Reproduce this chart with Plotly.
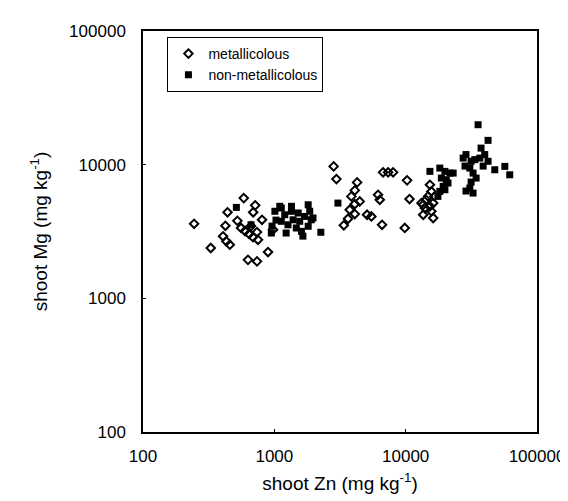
import plotly.graph_objects as go

# metallicolous populations (shoot Zn, shoot Mg; mg/kg)
met_zn = [245, 585, 715, 440, 690, 523, 806, 424, 558, 598, 642, 688, 738, 664,
          407, 431, 458, 328, 751, 895, 630, 738, 977,
          2970, 2830, 4270, 4100, 3860, 4470, 4100, 3750, 4100, 3640, 3380, 5080, 5480,
          6160, 6350, 6610, 6730, 7350, 8020, 10250, 10700, 9840,
          13200, 14000, 13600, 14300, 15300, 15700, 14800, 15300, 16200, 16600, 15700, 16200, 13600]
met_mg = [3610, 5620, 4960, 4400, 4400, 3800, 3870, 3490, 3360, 3190, 3030, 2870, 3130, 3470,
          2910, 2670, 2520, 2380, 2740, 2220, 1940, 1890, 3260,
          7800, 9710, 7370, 6420, 5790, 5310, 5070, 4600, 4270, 3940, 3520, 4220, 4100,
          5950, 5460, 3550, 8760, 8760, 8760, 7630, 5530, 3360,
          5160, 4740, 4220, 5460, 7070, 6310, 5790, 4880, 5160, 5790, 4480, 3990, 5010]

# non-metallicolous populations
non_zn = [514, 949, 1010, 1100, 1130, 1350, 1810, 1200, 1390, 1560, 1700, 1860, 1910,
          1270, 1470, 1610, 1810, 1130, 1350, 1520, 1970, 2260, 960, 1030, 1230, 1650,
          665, 3050,
          35600, 42400, 37500, 40000, 28800, 27400, 31500, 33600, 36700, 42400, 30800,
          32600, 34400, 38900, 47700, 56900, 62000, 30800, 32600, 28800, 31500, 28300,
          15300, 18200, 19900, 21700, 23000, 18700, 20400, 21000, 19300, 18200, 17600, 19900]
non_mg = [4790, 3080, 4480, 4880, 4740, 4880, 5010, 4220, 3870, 3770, 4100, 4480, 3870,
          3550, 3360, 3170, 3460, 3770, 4480, 4350, 3990, 3120, 3470, 3850, 3080, 2920,
          3550, 5160,
          19900, 15200, 13300, 11900, 11900, 11200, 10600, 10900, 11200, 10600, 9430,
          8650, 7940, 9760, 9160, 9710, 8400, 6680, 6130, 6350, 7410, 9760,
          8910, 9430, 8910, 8650, 8650, 7940, 7710, 7290, 6880, 6310, 5790, 6490]

tick_vals = [100, 1000, 10000, 100000]
tick_text = ["100", "1000", "10000", "100000"]

FONT = "Arial, Liberation Sans, sans-serif"

fig = go.Figure()
fig.add_trace(go.Scatter(
    x=met_zn, y=met_mg, mode="markers", name="metallicolous",
    marker=dict(symbol="diamond-open", size=6.5, color="black",
                line=dict(width=2, color="black"))))
fig.add_trace(go.Scatter(
    x=non_zn, y=non_mg, mode="markers", name="non-metallicolous",
    marker=dict(symbol="square", size=7, color="black")))

axis_common = dict(
    type="log", tickvals=tick_vals, ticktext=tick_text,
    showline=True, linecolor="black", linewidth=1.5, mirror=True,
    showgrid=False, zeroline=False, ticks="inside", ticklen=3,
    tickcolor="black", tickfont=dict(family=FONT, size=17, color="black"),
)

fig.update_layout(
    width=568, height=501,
    margin=dict(l=135, r=39, t=23, b=77),
    paper_bgcolor="white", plot_bgcolor="white",
    font=dict(family=FONT, color="black"),
    xaxis=dict(range=[2, 5], ticklabelstandoff=8,
               title=dict(text="shoot Zn (mg kg<sup>-1</sup>)",
                          font=dict(family=FONT, size=19), standoff=12),
               **axis_common),
    yaxis=dict(range=[2, 5], ticklabelstandoff=12,
               title=dict(text="shoot Mg (mg kg<sup>-1</sup>)",
                          font=dict(family=FONT, size=19), standoff=16),
               **axis_common),
    legend=dict(x=0.062, y=0.985, xanchor="left", yanchor="top",
                bordercolor="black", borderwidth=1, bgcolor="white",
                font=dict(family=FONT, size=14, color="black"),
                itemwidth=30, tracegroupgap=2),
    showlegend=True,
)

fig.write_html("out.html")
